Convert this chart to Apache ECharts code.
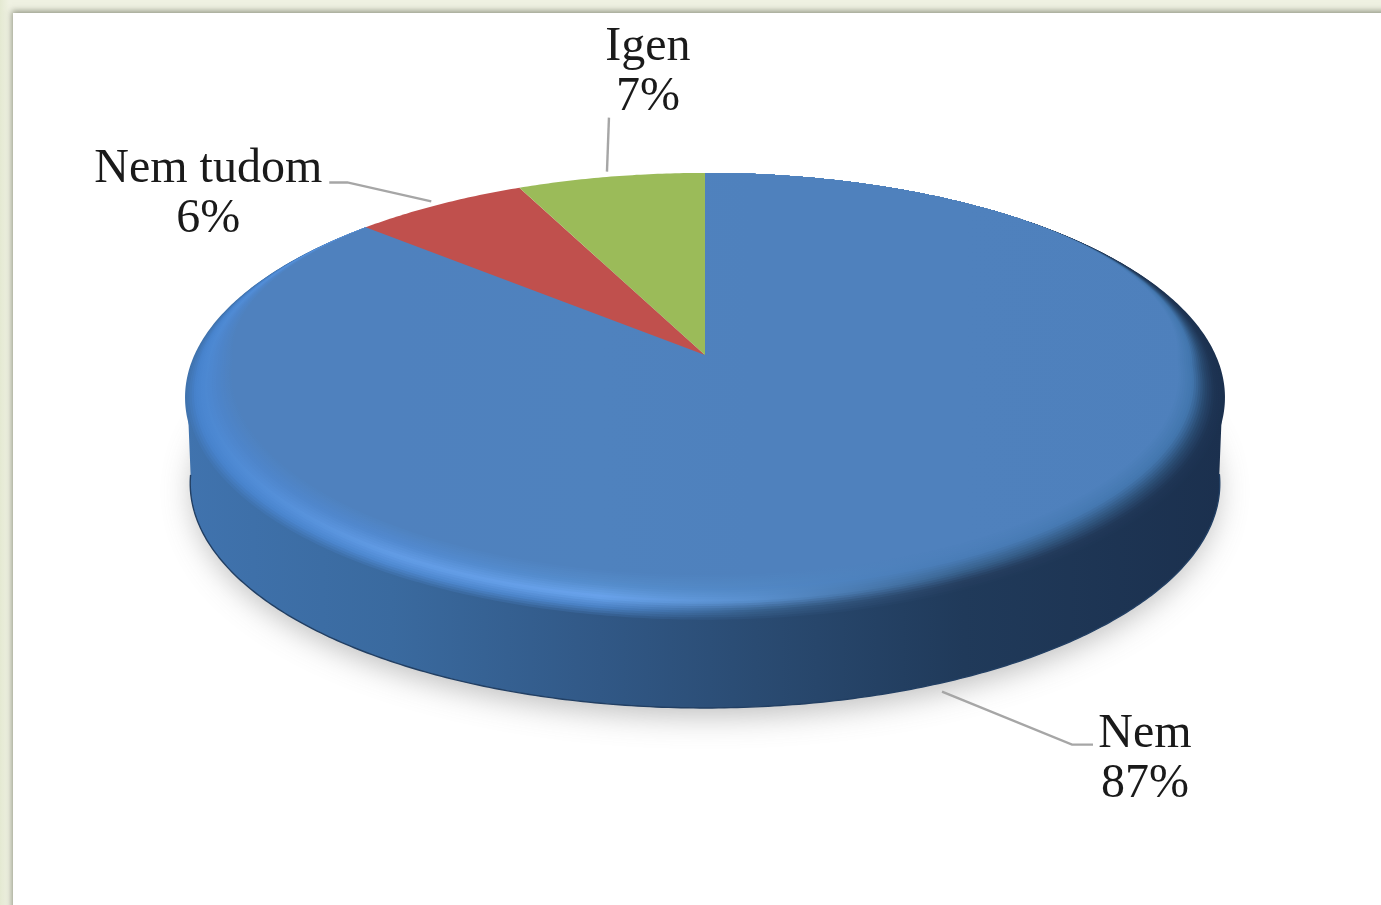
<!DOCTYPE html>
<html>
<head>
<meta charset="utf-8">
<style>
html,body{margin:0;padding:0;width:100%;height:100%;overflow:hidden;background:#fff}
#frame{position:absolute;left:0;top:0;width:1381px;height:905px;overflow:hidden;
  background:linear-gradient(90deg,#e4e9d2,#eff1e2 9px);}
#paper{position:absolute;left:13px;top:13px;width:1400px;height:930px;background:#fff;
  box-shadow:-1px -2px 6px rgba(70,75,55,.55)}
#chart{position:absolute;left:0;top:0;width:1381px;height:905px}
</style>
</head>
<body>
<div id="frame"><div id="paper"></div></div>
<div id="chart"></div>
<script src="https://cdn.jsdelivr.net/npm/echarts@6/dist/echarts.min.js"></script>
<script>
// ---- data ----
var categories = ['Nem', 'Nem tudom', 'Igen'];
var values = [86.55, 6.45, 7.0];
var sliceColors = ['#4f81bd', '#c0504d', '#9bbb59'];

// ---- pie projection (tilted disc with perspective) ----
var CX = 705, CY = 355, AX = 510.6, BY = 216.5, K = 0.189, DEPTH = 86;
var total = values.reduce(function (a, b) { return a + b; }, 0);

// leader line and label placement relative to each slice's rim anchor
var leaderOffsets = [
  [[-16, 12], [114, 65], [135, 65]],
  [[-8, -3], [-92, -22], [-110, -22]],
  [[-4, -5], [-2, -59]]
];
var labelOffsets = [[187, 80], [-231, -10], [37, -104]];

// bevel colour profile: inset ratio -> colours along the horizontal gradient
var gradStops = [0, 0.2, 0.4, 0.55, 0.75, 1];
var bevelProfile = [
  [1.000, ['#4073ae', '#3a6a9f', '#315886', '#2a4b72', '#203a5a', '#1b304e']],
  [0.985, ['#4682cc', '#4f8ad2', '#4c84c8', '#38628f', '#263f60', '#1d3352']],
  [0.970, ['#4a86d0', '#629ce6', '#69a3ec', '#5a90ce', '#39638f', '#26456a']],
  [0.950, ['#4c83c8', '#5189cf', '#558dcc', '#5187c4', '#4a7db8', '#4175ac']],
  [0.925, ['#4f81bd', '#4f81bd', '#4f81bd', '#4f81bd', '#4f81bd', '#4f81bd']]
];
var wallColors = ['#4073ae', '#3a6a9f', '#315886', '#2a4b72', '#203a5a', '#1b304e'];

function hex(c) { return [1, 3, 5].map(function (i) { return parseInt(c.substr(i, 2), 16); }); }
function mix(a, b, t) {
  var x = hex(a), y = hex(b);
  return 'rgb(' + x.map(function (v, i) { return Math.round(v + (y[i] - v) * t); }).join(',') + ')';
}
function hGrad(cols) {
  return {
    type: 'linear', x: 184, y: 0, x2: 1224, y2: 0, global: true,
    colorStops: cols.map(function (c, i) { return { offset: gradStops[i], color: c }; })
  };
}
function bevelColors(r) {
  for (var i = 0; i < bevelProfile.length - 1; i++) {
    var p = bevelProfile[i], q = bevelProfile[i + 1];
    if (r <= p[0] && r >= q[0]) {
      var t = (p[0] - r) / (p[0] - q[0]);
      return p[1].map(function (c, j) { return mix(c, q[1][j], t); });
    }
  }
  return bevelProfile[bevelProfile.length - 1][1];
}
// the bevel fades out towards the back of the disc
function bevelFade(a) {
  return Math.min(1, Math.max(0, (0.75 - Math.cos(a)) / 0.85));
}
function P(a, r, dy, sx) {
  var rr = 1 - (1 - r) * bevelFade(a);
  var u = rr * Math.sin(a), v = rr * Math.cos(a) + (1 - rr), d = 1 + K * v;
  return [CX + AX * (sx || 1) * u / d, CY - BY * v / d + (dy || 0)];
}
function arc(a0, a1, r, dy, sx) {
  var n = Math.max(2, Math.ceil(Math.abs(a1 - a0) / 0.01)), pts = [];
  for (var i = 0; i <= n; i++) pts.push(P(a0 + (a1 - a0) * i / n, r, dy, sx));
  return pts;
}
function angles(idx) {
  var s = 0;
  for (var i = 0; i < idx; i++) s += values[i];
  return [s / total * 2 * Math.PI, (s + values[idx]) / total * 2 * Math.PI];
}

function renderSlice(params, api) {
  var idx = params.dataIndex;
  var val = api.value(0);
  var rng = angles(idx), a0 = rng[0], a1 = a0 + val / total * 2 * Math.PI;
  var kids = [];
  var frontA = Math.max(a0, 1.72), frontB = Math.min(a1, 4.56);
  var hasWall = frontB > frontA;

  if (hasWall) {
    // ground shadow: only its blur shows below the wall
    kids.push({
      type: 'polygon', silent: true,
      shape: { points: arc(0, 2 * Math.PI, 1, DEPTH - 4, 0.985) },
      style: { fill: '#dddddd', shadowBlur: 30, shadowOffsetY: 12, shadowColor: 'rgba(110,110,110,0.45)' }
    });
    // side wall, tucked slightly under the rim so no seam shows
    var upper = arc(frontA, frontB, 1, -3, 0.997);
    var lower = arc(frontB, frontA, 1, DEPTH, 0.99);
    kids.push({
      type: 'polygon', silent: true,
      shape: { points: upper.concat(lower) },
      style: { fill: hGrad(wallColors) }
    });
    kids.push({
      type: 'polyline', silent: true,
      shape: { points: lower },
      style: { stroke: '#223f63', lineWidth: 1.4, fill: null }
    });
    // bevelled rim, from the outside in
    for (var r = 1; r >= 0.924; r -= 0.0035) {
      kids.push({
        type: 'polygon', silent: true,
        shape: { points: [[CX, CY]].concat(arc(a0, a1, r, 0, 1)) },
        style: { fill: hGrad(bevelColors(r)) }
      });
    }
  } else {
    kids.push({
      type: 'polygon', silent: true,
      shape: { points: [[CX, CY]].concat(arc(a0, a1, 1, 0, 1)) },
      style: { fill: sliceColors[idx] }
    });
  }

  // leader line and label
  var mid = (a0 + a1) / 2;
  var anchor = P(mid, 1, hasWall ? DEPTH : 0, 1);
  kids.push({
    type: 'polyline', silent: true,
    shape: { points: leaderOffsets[idx].map(function (o) { return [anchor[0] + o[0], anchor[1] + o[1]]; }) },
    style: { stroke: '#a6a6a6', lineWidth: 2.4, fill: null }
  });
  kids.push({
    type: 'text', silent: true,
    style: {
      x: anchor[0] + labelOffsets[idx][0],
      y: anchor[1] + labelOffsets[idx][1],
      text: categories[idx] + '\n' + Math.round(val / total * 100) + '%',
      fill: '#1a1a1a',
      font: '48px "Liberation Serif", serif',
      lineHeight: 50,
      align: 'center',
      verticalAlign: 'middle'
    }
  });
  return { type: 'group', children: kids };
}

var chart = echarts.init(document.getElementById('chart'), null, { renderer: 'canvas' });
chart.setOption({
  animation: false,
  backgroundColor: 'transparent',
  series: [{
    type: 'custom',
    coordinateSystem: 'none',
    renderItem: renderSlice,
    data: values.map(function (v, i) { return { name: categories[i], value: v }; })
  }]
});
</script>
</body>
</html>
